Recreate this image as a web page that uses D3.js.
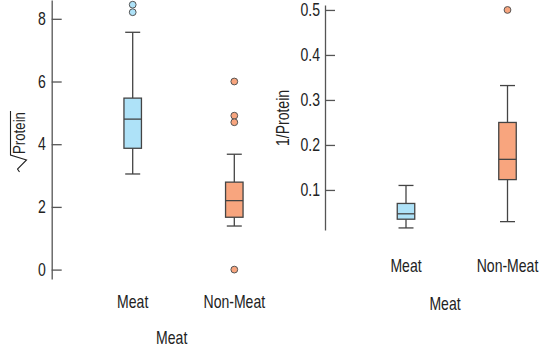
<!DOCTYPE html>
<html><head><meta charset="utf-8">
<script src="https://cdn.jsdelivr.net/npm/d3@7"></script>
<style>
body{margin:0;background:#fff;}
svg text{font-family:"Liberation Sans",Arial,sans-serif;fill:#222;}
</style></head>
<body><svg id="c" width="542" height="348"></svg>
<script>
const categories = ["Meat", "Non-Meat"];
// sqrt(Protein) panel: [whiskerLow, Q1, median, Q3, whiskerHigh]
const sqrtStats = [[3.05, 3.87, 4.80, 5.47, 7.57], [1.39, 1.67, 2.20, 2.79, 3.68]];
const sqrtOutliers = [[8.45, 8.21], [6.0, 4.91, 4.70, 0.0]];
const sqrtTicks = [0, 2, 4, 6, 8];
// 1/Protein panel
const invStats = [[0.0156, 0.035, 0.047, 0.070, 0.110], [0.0296, 0.123, 0.168, 0.250, 0.332]];
const invOutliers = [[], [0.5]];
const invTicks = [0.1, 0.2, 0.3, 0.4, 0.5];
const colors = ["#aee2f8", "#f8a57e"];

const svg = d3.select("#c");
const fs = 18, sx = 0.78;

function label(parent, x, y, str, size, rot){
  const g = parent.append("g").attr("transform", `translate(${x},${y})${rot ? " rotate(" + rot + ")" : ""} scale(${sx},1)`);
  return g.append("text").attr("text-anchor", "middle").attr("font-size", size).text(str);
}

function panel(opt){
  const g = svg.append("g");
  const y = d3.scaleLinear().domain(opt.ydom).range(opt.yrange);
  const x = d3.scalePoint().domain(categories).range(opt.xrange);
  const ax = g.append("g").attr("transform", `translate(${opt.axisX},0)`)
    .call(d3.axisLeft(y).tickValues(opt.ticks).tickSizeInner(-10).tickSizeOuter(0).tickPadding(opt.pad).tickFormat(opt.fmt));
  ax.attr("font-family", null).attr("font-size", null);
  ax.select(".domain").attr("stroke", "#555").attr("stroke-width", 1.3);
  ax.selectAll(".tick line").attr("stroke", "#555").attr("stroke-width", 1.3);
  ax.selectAll(".tick text").attr("font-size", fs).attr("fill", "#222")
    .attr("x", -opt.pad / sx).attr("transform", `scale(${sx},1)`);
  const bw = 17.5, cw = 15;
  categories.forEach((c, i) => {
    const s = opt.stats[i], cx = x(c);
    const b = g.append("g");
    const st = sel => sel.attr("stroke", "#444").attr("stroke-width", 1.3);
    st(b.append("line").attr("x1", cx).attr("x2", cx).attr("y1", y(s[0])).attr("y2", y(s[1])));
    st(b.append("line").attr("x1", cx).attr("x2", cx).attr("y1", y(s[3])).attr("y2", y(s[4])));
    [s[0], s[4]].forEach(v => st(b.append("line").attr("x1", cx - cw/2).attr("x2", cx + cw/2).attr("y1", y(v)).attr("y2", y(v))));
    st(b.append("rect").attr("x", cx - bw/2).attr("width", bw).attr("y", y(s[3])).attr("height", y(s[1]) - y(s[3])).attr("fill", colors[i]));
    st(b.append("line").attr("x1", cx - bw/2).attr("x2", cx + bw/2).attr("y1", y(s[2])).attr("y2", y(s[2])));
    opt.outliers[i].forEach(v => b.append("circle").attr("cx", cx).attr("cy", y(v)).attr("r", 3.4)
      .attr("fill", colors[i]).attr("stroke", "#555").attr("stroke-width", 1));
    label(g, cx, opt.catY, c, fs);
  });
  label(g, opt.titleX, opt.titleY, "Meat", fs);
  return g;
}

panel({ydom: [-0.3, 8.6], yrange: [279, 0], xrange: [132.7, 234.3], axisX: 51.7, ticks: sqrtTicks, pad: 6,
  fmt: d3.format("d"), stats: sqrtStats, outliers: sqrtOutliers, catY: 308, titleX: 171.7, titleY: 344});
panel({ydom: [0.011, 0.511], yrange: [230, 5], xrange: [406, 507.5], axisX: 325, ticks: invTicks, pad: 5,
  fmt: d3.format(".1f"), stats: invStats, outliers: invOutliers, catY: 272, titleX: 445, titleY: 310});

// Y titles
const pt = label(svg, 24.5, 133, "Protein", 17, -90);
const w = pt.node().getComputedTextLength() * sx;
const t1 = svg.append("g").attr("transform", "translate(24.5,133) rotate(-90)");
const x0 = -w/2, x1 = w/2;
t1.append("path").attr("d", `M${x0-18},${-5} L${x0-15},${-7} L${x0-6},${2} L${x0-1},${-14} L${x1+1},${-14}`)
  .attr("fill", "none").attr("stroke", "#222").attr("stroke-width", 1.1);
label(svg, 288.5, 118, "1/Protein", fs, -90);
</script></body></html>
